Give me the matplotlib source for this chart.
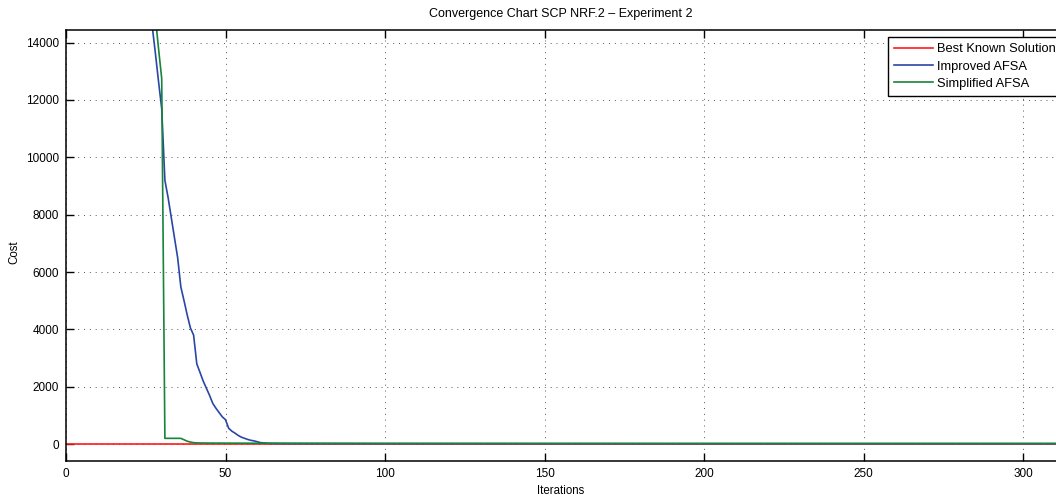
import numpy as np
import matplotlib
matplotlib.use("Agg")
from matplotlib import pyplot as plt

plt.rcParams['font.family'] = ['Liberation Sans', 'DejaVu Sans']

# iterations / cost
best_iters = [0, 320]
best_cost = [10, 10]

improved_iters = [0, 10, 20, 26, 27, 28, 29, 30, 31, 32, 33, 34, 35, 36, 37, 38, 39, 40,
                  41, 42, 43, 44, 45, 46, 47, 48, 49, 50, 51, 52, 53, 54, 55, 56, 57,
                  58, 59, 60, 61, 62, 63, 65, 70, 100, 200, 320]
improved_cost = [42000, 30000, 21000, 15600, 14600, 13650, 12650, 11700, 9200, 8600,
                 7900, 7200, 6500, 5480, 5000, 4500, 4050, 3800, 2800, 2500, 2200, 1950,
                 1700, 1420, 1250, 1100, 950, 850, 550, 450, 380, 300, 240, 200, 160,
                 130, 110, 80, 50, 40, 30, 22, 18, 16, 15, 15]

simplified_iters = [0, 10, 20, 27, 28, 29, 30, 31, 32, 33, 34, 35, 36, 37, 38, 39, 40,
                    41, 45, 60, 100, 200, 320]
simplified_cost = [45000, 33000, 22000, 16300, 14900, 13800, 12750, 200, 200, 200, 200,
                   200, 200, 150, 100, 70, 50, 40, 35, 30, 25, 22, 22]

fig = plt.figure(figsize=(10.56, 5.04), dpi=100)
ax = fig.add_axes([66/1056, 1 - 461/504, 3.19*320/1056, (461 - 30)/504])

ax.plot(best_iters, best_cost, color='#ff1a1a', lw=1.2, label='Best Known Solution')
ax.plot(improved_iters, improved_cost, color='#2a46a6', lw=1.2, label='Improved AFSA')
ax.plot(simplified_iters, simplified_cost, color='#16843a', lw=1.2, label='Simplified AFSA')

ax.set_xlim(0, 320)
ax.set_ylim(-590, 14440)
ax.set_xticks([0, 50, 100, 150, 200, 250, 300])
ax.set_yticks(np.arange(0, 14001, 2000))
ax.tick_params(direction='in', length=6, width=1, labelsize=8.5, top=True, right=True,
               colors='black', pad=5)
ax.grid(True, linestyle=(0, (1, 5)), color='#555555', lw=0.7)
for s in ax.spines.values():
    s.set_linewidth(1.1)

fig.text(561/1056, 1 - 14/504, 'Convergence Chart SCP NRF.2 \u2013 Experiment 2',
         ha='center', va='center', fontsize=9)
fig.text(561/1056, 1 - 491/504, 'Iterations', ha='center', va='center', fontsize=8.3)
fig.text(14/1056, 1 - 252/504, 'Cost', ha='center', va='center', fontsize=8.3, rotation=90)

leg = ax.legend(loc='upper left', bbox_to_anchor=(888/1056, 1 - 37/504),
                bbox_transform=fig.transFigure, fontsize=9.3, fancybox=False,
                framealpha=1, edgecolor='black', borderpad=0.5, labelspacing=0.4,
                handlelength=3.0, handletextpad=0.3, borderaxespad=0)
leg.get_frame().set_linewidth(1)

try:
    plt.savefig('out.png', dpi=100)
except:
    pass
